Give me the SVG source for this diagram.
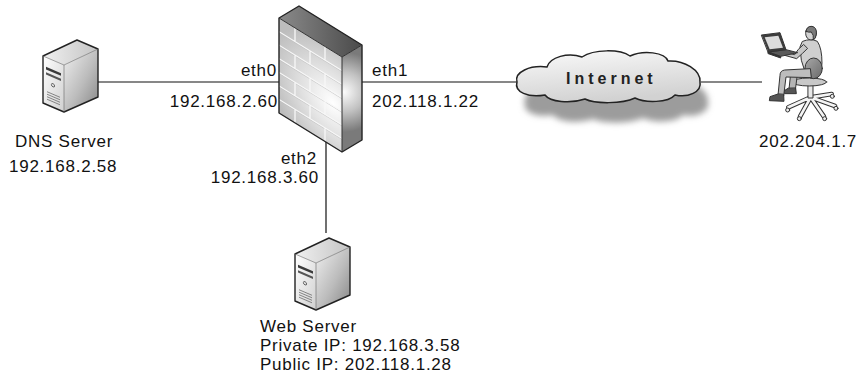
<svg xmlns="http://www.w3.org/2000/svg" xmlns:xlink="http://www.w3.org/1999/xlink" width="863" height="383" viewBox="0 0 863 383">
  <style>
    .lbl { font-family: "Liberation Sans", Arial, sans-serif; font-size: 17px; letter-spacing: 0.75px; fill: #111; }
    .end { text-anchor: end; }
    .wire { stroke: #111; stroke-width: 1.2; fill: none; }
    .edge { stroke: #222; stroke-width: 1.4; stroke-linejoin: round; }
    .brick { stroke: #f8f8f8; stroke-width: 1.3; fill: none; }
    .brick2 { stroke: #bcbcbc; stroke-width: 0.5; fill: none; }
    .cloudtxt { font-family: "Liberation Sans", Arial, sans-serif; font-size: 16px; font-weight: bold; letter-spacing: 4px; fill: #222; }
  </style>
  <defs>
    <linearGradient id="srvFront" x1="0" y1="0" x2="1" y2="1">
      <stop offset="0" stop-color="#ffffff"/>
      <stop offset="1" stop-color="#d0d0d0"/>
    </linearGradient>
    <linearGradient id="srvSide" x1="0" y1="0" x2="1" y2="1">
      <stop offset="0" stop-color="#f0f0f0"/>
      <stop offset="0.55" stop-color="#bcbcbc"/>
      <stop offset="1" stop-color="#858585"/>
    </linearGradient>
    <linearGradient id="srvTop" x1="0" y1="0" x2="1" y2="0">
      <stop offset="0" stop-color="#f0f0f0"/>
      <stop offset="1" stop-color="#c4c4c4"/>
    </linearGradient>
    <radialGradient id="wallFront" gradientUnits="userSpaceOnUse" cx="54" cy="52" r="64">
      <stop offset="0" stop-color="#ffffff"/>
      <stop offset="0.5" stop-color="#e0e0e0"/>
      <stop offset="1" stop-color="#bdbdbd"/>
    </radialGradient>
    <radialGradient id="wallSide" gradientUnits="userSpaceOnUse" cx="344" cy="92" r="40">
      <stop offset="0" stop-color="#fbfbfb"/>
      <stop offset="0.5" stop-color="#c2c2c2"/>
      <stop offset="1" stop-color="#7a7a7a"/>
    </radialGradient>
    <linearGradient id="wallTop" x1="0" y1="0" x2="1" y2="0">
      <stop offset="0" stop-color="#8a8a8a"/>
      <stop offset="1" stop-color="#4a4a4a"/>
    </linearGradient>
    <linearGradient id="cloudFill" x1="0" y1="0" x2="0.3" y2="1">
      <stop offset="0" stop-color="#fafafa"/>
      <stop offset="1" stop-color="#d2d2d2"/>
    </linearGradient>
    <linearGradient id="chairBack" x1="0" y1="0" x2="1" y2="1">
      <stop offset="0" stop-color="#a8a8a8"/>
      <stop offset="1" stop-color="#6a6a6a"/>
    </linearGradient>
    <filter id="soft" x="-20%" y="-40%" width="140%" height="180%">
      <feGaussianBlur stdDeviation="3"/>
    </filter>
    <path id="cloudShape" d="M517 82 C514 72 530 65 547 67 C550 57 568 52 582 57 C594 49 620 49 630 56 C643 50 665 52 668 61 C684 60 701 70 700 82 C702 92 688 98 675 95 C668 103 645 103 635 98 C622 104 595 104 585 99 C570 104 550 102 545 95 C528 98 514 92 517 82 Z"/>
    <!-- tower server icon, origin at its top-left corner -->
    <g id="server">
      <polygon points="0,19 34,3 55,12 21,28" fill="url(#srvTop)"/>
      <polygon points="21,28 55,12 55,60 21,75" fill="url(#srvSide)"/>
      <polygon points="0,19 21,28 21,75 0,66" fill="url(#srvFront)"/>
      <g transform="translate(0,19) skewY(23.2)">
        <rect x="3" y="9.5" width="15" height="2.6" fill="#3a3a3a"/>
        <rect x="3" y="15" width="15" height="2.2" fill="#555"/>
        <circle cx="10" cy="25" r="1.6" fill="none" stroke="#555" stroke-width="0.8"/>
        <path d="M4 34 H17 M4 36.5 H17 M4 39 H17 M4 41.5 H17" stroke="#777" stroke-width="0.8"/>
      </g>
      <polygon points="0,19 34,3 55,12 55,60 21,75 0,66" fill="none" class="edge" stroke-width="1"/>
      <path d="M0 19 L21 28 L55 12 M21 28 V75" fill="none" stroke="#666" stroke-width="0.6"/>
    </g>
  </defs>

  <!-- links -->
  <g id="connectors">
    <line class="wire" x1="98" y1="82" x2="279" y2="82"/>
    <line class="wire" x1="362" y1="82" x2="517" y2="82"/>
    <line class="wire" x1="701" y1="82" x2="762" y2="82"/>
    <line class="wire" x1="326" y1="142" x2="326" y2="233"/>
  </g>

  <!-- DNS server -->
  <g id="dns-server">
    <use xlink:href="#server" href="#server" transform="translate(43,37)"/>
    <text class="lbl" x="15" y="147">DNS Server</text>
    <text class="lbl" x="9" y="172">192.168.2.58</text>
  </g>

  <!-- firewall -->
  <g id="firewall">
    <polygon points="279,18 299,6 362,45 342,57" fill="url(#wallTop)"/>
    <polygon points="342,57 362,45 362,140 342,152" fill="url(#wallSide)"/>
    <g transform="translate(279,18) skewY(31.76)">
      <rect x="0" y="0" width="63" height="95" fill="url(#wallFront)"/>
      <path class="brick2" d="M0 14.6 H63 M0 28.1 H63 M0 41.7 H63 M0 55.3 H63 M0 68.9 H63 M0 82.4 H63"/>
      <path class="brick" d="M0 13.6 H63 M0 27.1 H63 M0 40.7 H63 M0 54.3 H63 M0 67.9 H63 M0 81.4 H63
        M16 0 V13.6 M46 0 V13.6
        M31 13.6 V27.1
        M16 27.1 V40.7 M46 27.1 V40.7
        M31 40.7 V54.3
        M16 54.3 V67.9 M46 54.3 V67.9
        M31 67.9 V81.4
        M16 81.4 V95 M46 81.4 V95"/>
    </g>
    <polygon points="279,18 299,6 362,45 362,140 342,152 279,113" fill="none" class="edge" stroke-width="1.6"/>
    <path d="M279 18 L342 57 L362 45 M342 57 V152" fill="none" stroke="#333" stroke-width="1"/>
    <text class="lbl end" x="277" y="76">eth0</text>
    <text class="lbl end" x="278" y="107">192.168.2.60</text>
    <text class="lbl" x="372" y="76">eth1</text>
    <text class="lbl" x="372" y="107">202.118.1.22</text>
    <text class="lbl end" x="317" y="164">eth2</text>
    <text class="lbl end" x="319" y="183">192.168.3.60</text>
  </g>

  <!-- internet cloud -->
  <g id="internet">
    <use xlink:href="#cloudShape" href="#cloudShape" transform="translate(8,20)" fill="#9c9c9c" filter="url(#soft)"/>
    <use xlink:href="#cloudShape" href="#cloudShape" fill="url(#cloudFill)" stroke="#222" stroke-width="1.5"/>
    <text class="cloudtxt" x="566" y="84">Internet</text>
  </g>

  <!-- remote user -->
  <g id="remote-user">
    <g transform="translate(750,20) scale(0.3333)" stroke="#333" stroke-width="3" stroke-linejoin="round" stroke-linecap="round">
      <!-- chair base -->
      <g fill="none">
        <path d="M182 232 L115 262 M182 232 L150 290 M182 232 L222 290 M182 232 L255 258 M182 232 L245 222" stroke="#333" stroke-width="14"/>
        <path d="M182 232 L115 262 M182 232 L150 290 M182 232 L222 290 M182 232 L255 258 M182 232 L245 222" stroke="#f4f4f4" stroke-width="8"/>
      </g>
      <circle cx="113" cy="270" r="6" fill="#eee"/>
      <circle cx="148" cy="296" r="6" fill="#eee"/>
      <circle cx="224" cy="296" r="6" fill="#eee"/>
      <circle cx="258" cy="265" r="6" fill="#eee"/>
      <circle cx="247" cy="229" r="6" fill="#eee"/>
      <rect x="175" y="190" width="14" height="44" fill="#e8e8e8"/>
      <ellipse cx="178" cy="186" rx="52" ry="12" fill="#c8c8c8"/>
      <!-- far leg -->
      <path d="M122 160 L117 208 L136 210 L142 164 Z" fill="#b4b4b4"/>
      <path d="M114 205 L100 214 L104 221 L139 221 L137 205 Z" fill="#555"/>
      <!-- torso -->
      <path d="M158 64 Q182 54 202 64 Q216 84 216 130 L210 158 L166 158 Q150 122 150 82 Z" fill="#cfcfcf"/>
      <!-- chair back -->
      <ellipse cx="191" cy="145" rx="26" ry="31" fill="url(#chairBack)"/>
      <!-- near leg -->
      <path d="M180 146 L104 150 Q90 152 90 166 L84 226 L101 228 L108 171 L183 173 Z" fill="#bdbdbd"/>
      <path d="M84 222 L60 230 L58 242 L102 244 L101 224 Z" fill="#555"/>
      <!-- arm -->
      <path d="M160 74 Q142 88 134 104 L110 98 L104 106 L140 116 Q158 100 172 86 Z" fill="#c6c6c6"/>
      <!-- head -->
      <ellipse cx="183" cy="40" rx="16" ry="20" fill="#d2d2d2"/>
      <path d="M168 34 Q170 18 186 19 Q201 22 199 42 Q198 56 190 60 Q192 44 184 36 Q176 38 168 34 Z" fill="#7a7a7a"/>
      <!-- laptop -->
      <path d="M55 96 L108 89 L143 98 L92 109 Z" fill="#5a5a5a"/>
      <path d="M55 96 L92 109 L92 114 L55 101 Z" fill="#333"/>
      <path d="M35 45 L90 38 L108 89 L55 96 Z" fill="#3c3c3c"/>
      <path d="M44 52 L85 47 L99 83 L59 88 Z" fill="#dcdcdc" stroke="none"/>
    </g>
    <text class="lbl" x="759" y="147">202.204.1.7</text>
  </g>

  <!-- web server -->
  <g id="web-server">
    <use xlink:href="#server" href="#server" transform="translate(295,235)"/>
    <text class="lbl" x="260" y="332">Web Server</text>
    <text class="lbl" x="260" y="351">Private IP: 192.168.3.58</text>
    <text class="lbl" x="260" y="370">Public IP: 202.118.1.28</text>
  </g>
</svg>
